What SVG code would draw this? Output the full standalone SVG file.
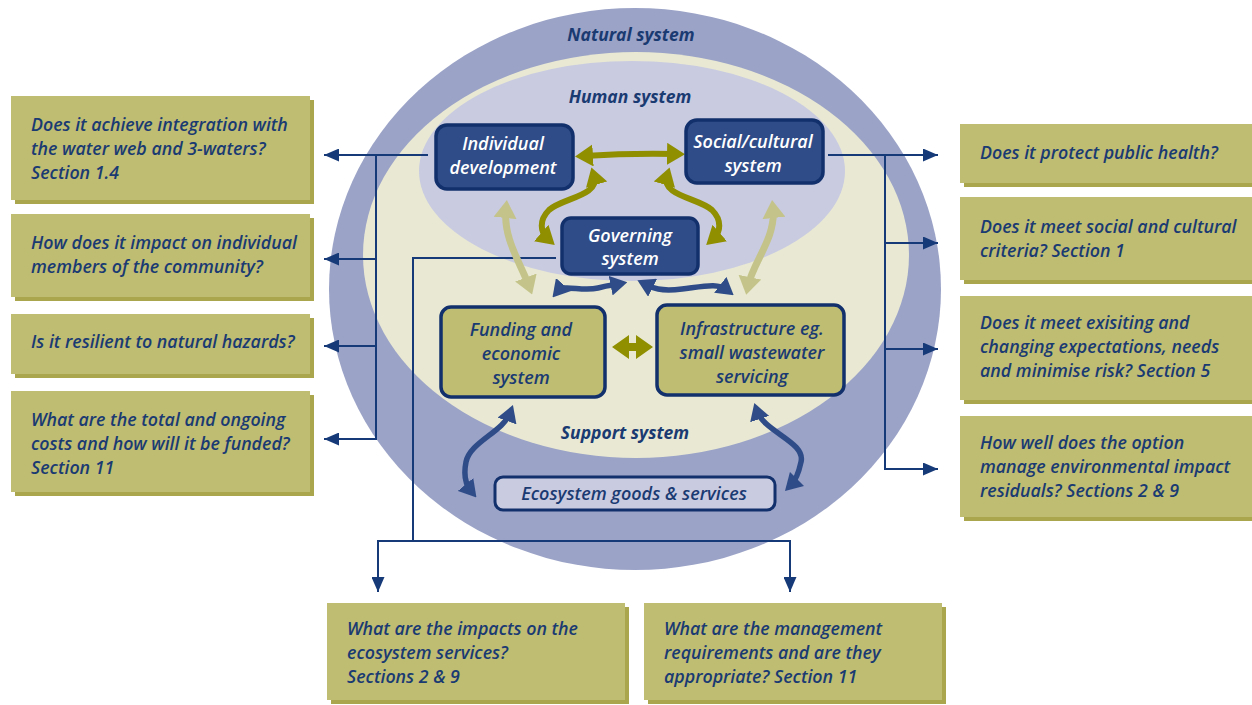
<svg xmlns="http://www.w3.org/2000/svg" width="1252" height="705" viewBox="0 0 1252 705">
  <style>
    .q { font-family: "Open Sans", "Liberation Sans", sans-serif; font-style: italic; font-weight: 600; font-size: 17.8px; fill: #1a3a72; }
    .lbl { font-family: "Open Sans", "Liberation Sans", sans-serif; font-style: italic; font-weight: 700; font-size: 17.5px; fill: #1a3a72; text-anchor: middle; }
    .nw { font-family: "Open Sans", "Liberation Sans", sans-serif; font-style: italic; font-weight: 600; font-size: 18px; fill: #ffffff; text-anchor: middle; }
    .nd { font-family: "Open Sans", "Liberation Sans", sans-serif; font-style: italic; font-weight: 600; font-size: 18px; fill: #1a3a72; text-anchor: middle; }
    .qbox { fill: #bfbd72; }
    .qshadow { fill: #a9a64e; }
    .blue-node { fill: #2f4c88; stroke: #12306c; stroke-width: 3.5; }
    .olive-node { fill: #bfbd72; stroke: #12306c; stroke-width: 3.5; }
    .eco-node { fill: #c9cbe1; stroke: #12306c; stroke-width: 3; }
    .thin { fill: none; stroke: #163a78; stroke-width: 2; }
    .olive-arr { fill: none; stroke: #8f8f00; stroke-width: 6; }
    .light-arr { fill: none; stroke: #c4c48a; stroke-width: 7; }
    .blue-arr { fill: none; stroke: #2f4c88; stroke-width: 5.5; }
  </style>
  <defs>
    <marker id="thinHead" viewBox="0 0 10 10" preserveAspectRatio="none" refX="10" refY="5" markerWidth="15" markerHeight="13" markerUnits="userSpaceOnUse" orient="auto">
      <path d="M0,0 L10,5 L0,10 z" fill="#163a78"/>
    </marker>
    <marker id="oliveHead" viewBox="0 0 10 10" preserveAspectRatio="none" refX="5" refY="5" markerWidth="18" markerHeight="22" markerUnits="userSpaceOnUse" orient="auto-start-reverse">
      <path d="M0,0 L10,5 L0,10 z" fill="#8f8f00"/>
    </marker>
    <marker id="lightHead" viewBox="0 0 10 10" preserveAspectRatio="none" refX="5" refY="5" markerWidth="18" markerHeight="23" markerUnits="userSpaceOnUse" orient="auto-start-reverse">
      <path d="M0,0 L10,5 L0,10 z" fill="#c4c48a"/>
    </marker>
    <marker id="blueHead" viewBox="0 0 10 10" preserveAspectRatio="none" refX="5" refY="5" markerWidth="17" markerHeight="20" markerUnits="userSpaceOnUse" orient="auto-start-reverse">
      <path d="M0,0 L10,5 L0,10 z" fill="#2f4c88"/>
    </marker>
  </defs>

  <!-- nested system ellipses -->
  <g id="systems">
    <ellipse cx="635" cy="289" rx="306" ry="281" fill="#9ba3c7"/>
    <ellipse cx="636" cy="255" rx="273" ry="203" fill="#e9e9d3"/>
    <ellipse cx="632" cy="171" rx="213" ry="110" fill="#c9cbe1"/>
    <text class="lbl" x="631" y="41">Natural system</text>
    <text class="lbl" x="630" y="103">Human system</text>
    <text class="lbl" x="625" y="439">Support system</text>
  </g>

  <!-- connectors -->
  <g id="connectors">
    <!-- left question branches -->
    <path class="thin" d="M428,155 H324" marker-end="url(#thinHead)"/>
    <path class="thin" d="M376,155 V439"/>
    <path class="thin" d="M376,259 H324" marker-end="url(#thinHead)"/>
    <path class="thin" d="M376,346 H324" marker-end="url(#thinHead)"/>
    <path class="thin" d="M377,439 H324" marker-end="url(#thinHead)"/>
    <!-- right question branches -->
    <path class="thin" d="M828,155 H938" marker-end="url(#thinHead)"/>
    <path class="thin" d="M885,155 V469"/>
    <path class="thin" d="M885,243 H938" marker-end="url(#thinHead)"/>
    <path class="thin" d="M885,349 H938" marker-end="url(#thinHead)"/>
    <path class="thin" d="M884,469 H938" marker-end="url(#thinHead)"/>
    <!-- bottom question branches -->
    <path class="thin" d="M556,258 H413 V541"/>
    <path class="thin" d="M378,541 H790"/>
    <path class="thin" d="M378,540 V592" marker-end="url(#thinHead)"/>
    <path class="thin" d="M790,540 V592" marker-end="url(#thinHead)"/>

    <!-- human system links -->
    <path class="olive-arr" d="M584,156 Q630,153 676,154" marker-start="url(#oliveHead)" marker-end="url(#oliveHead)"/>
    <path class="olive-arr" d="M594,176 C600,196 562,198 549,210 C539,220 540,232 548,239" marker-start="url(#oliveHead)" marker-end="url(#oliveHead)"/>
    <path class="olive-arr" d="M667,176 C661,196 699,198 712,210 C722,220 721,232 713,239" marker-start="url(#oliveHead)" marker-end="url(#oliveHead)"/>
    <path class="light-arr" d="M506,209 C503,238 520,262 529,286" marker-start="url(#lightHead)" marker-end="url(#lightHead)"/>
    <path class="light-arr" d="M773,209 C776,238 753,262 748,286" marker-start="url(#lightHead)" marker-end="url(#lightHead)"/>
    <!-- governing to support links -->
    <path class="blue-arr" d="M558,291 C564,284 582,292 598,288 C609,285 614,285 619,284" marker-start="url(#blueHead)" marker-end="url(#blueHead)"/>
    <path class="blue-arr" d="M645,284 C651,287 658,292 682,289 C706,286 718,283 727,290" marker-start="url(#blueHead)" marker-end="url(#blueHead)"/>
    <polygon points="612,347 629,335 629,343 636,343 636,335 653,347 636,359 636,351 629,351 629,359" fill="#8f8f00"/>
    <!-- support to ecosystem links -->
    <path class="blue-arr" d="M510,413 C503,432 470,442 466,462 C463,477 466,485 471,491" marker-start="url(#blueHead)" marker-end="url(#blueHead)"/>
    <path class="blue-arr" d="M757,411 C764,432 806,442 801,462 C798,476 795,481 791,485" marker-start="url(#blueHead)" marker-end="url(#blueHead)"/>
  </g>

  <!-- system nodes -->
  <g id="node-individual">
    <rect class="blue-node" x="436" y="125" width="137" height="64" rx="11"/>
    <text class="nw" x="503" y="150">Individual</text>
    <text class="nw" x="503" y="174">development</text>
  </g>
  <g id="node-social">
    <rect class="blue-node" x="686" y="120" width="137" height="63" rx="11"/>
    <text class="nw" x="753" y="148">Social/cultural</text>
    <text class="nw" x="753" y="172">system</text>
  </g>
  <g id="node-governing">
    <rect class="blue-node" x="562" y="218" width="136" height="56" rx="9"/>
    <text class="nw" x="630" y="242">Governing</text>
    <text class="nw" x="630" y="265">system</text>
  </g>
  <g id="node-funding">
    <rect class="olive-node" x="441" y="307" width="164" height="90" rx="10"/>
    <text class="nd" x="521" y="336">Funding and</text>
    <text class="nd" x="521" y="360">economic</text>
    <text class="nd" x="521" y="384">system</text>
  </g>
  <g id="node-infrastructure">
    <rect class="olive-node" x="657" y="305" width="187" height="90" rx="10"/>
    <text class="nd" x="752" y="335">Infrastructure eg.</text>
    <text class="nd" x="752" y="359">small wastewater</text>
    <text class="nd" x="752" y="383">servicing</text>
  </g>
  <g id="node-ecosystem">
    <rect class="eco-node" x="495" y="477" width="280" height="33" rx="8"/>
    <text class="nd" x="634" y="500">Ecosystem goods &amp; services</text>
  </g>

  <!-- question boxes, left -->
  <g id="q-integration">
    <rect class="qshadow" x="15" y="100" width="299" height="104"/>
    <rect class="qbox" x="11" y="96" width="299" height="104"/>
    <text class="q" x="31" y="131">Does it achieve integration with</text>
    <text class="q" x="31" y="155">the water web and 3-waters?</text>
    <text class="q" x="31" y="179">Section 1.4</text>
  </g>
  <g id="q-individual">
    <rect class="qshadow" x="15" y="218" width="299" height="83"/>
    <rect class="qbox" x="11" y="214" width="299" height="83"/>
    <text class="q" x="31" y="249">How does it impact on individual</text>
    <text class="q" x="31" y="273">members of the community?</text>
  </g>
  <g id="q-hazards">
    <rect class="qshadow" x="15" y="318" width="299" height="60"/>
    <rect class="qbox" x="11" y="314" width="299" height="60"/>
    <text class="q" x="31" y="348">Is it resilient to natural hazards?</text>
  </g>
  <g id="q-costs">
    <rect class="qshadow" x="15" y="395" width="299" height="101"/>
    <rect class="qbox" x="11" y="391" width="299" height="101"/>
    <text class="q" x="31" y="426">What are the total and ongoing</text>
    <text class="q" x="31" y="450">costs and how will it be funded?</text>
    <text class="q" x="31" y="474">Section 11</text>
  </g>

  <!-- question boxes, right -->
  <g id="q-health">
    <rect class="qshadow" x="964" y="128" width="300" height="59"/>
    <rect class="qbox" x="960" y="124" width="300" height="59"/>
    <text class="q" x="980" y="159">Does it protect public health?</text>
  </g>
  <g id="q-social">
    <rect class="qshadow" x="964" y="201" width="300" height="83"/>
    <rect class="qbox" x="960" y="197" width="300" height="83"/>
    <text class="q" x="980" y="233">Does it meet social and cultural</text>
    <text class="q" x="980" y="257">criteria? Section 1</text>
  </g>
  <g id="q-expectations">
    <rect class="qshadow" x="964" y="300" width="300" height="104"/>
    <rect class="qbox" x="960" y="296" width="300" height="104"/>
    <text class="q" x="980" y="329">Does it meet exisiting and</text>
    <text class="q" x="980" y="353">changing expectations, needs</text>
    <text class="q" x="980" y="377">and minimise risk? Section 5</text>
  </g>
  <g id="q-residuals">
    <rect class="qshadow" x="964" y="420" width="300" height="101"/>
    <rect class="qbox" x="960" y="416" width="300" height="101"/>
    <text class="q" x="980" y="449">How well does the option</text>
    <text class="q" x="980" y="473">manage environmental impact</text>
    <text class="q" x="980" y="497">residuals? Sections 2 &amp; 9</text>
  </g>

  <!-- question boxes, bottom -->
  <g id="q-ecosystem">
    <rect class="qshadow" x="331" y="607" width="298" height="97"/>
    <rect class="qbox" x="327" y="603" width="298" height="97"/>
    <text class="q" x="347" y="635">What are the impacts on the</text>
    <text class="q" x="347" y="659">ecosystem services?</text>
    <text class="q" x="347" y="683">Sections 2 &amp; 9</text>
  </g>
  <g id="q-management">
    <rect class="qshadow" x="648" y="607" width="298" height="97"/>
    <rect class="qbox" x="644" y="603" width="298" height="97"/>
    <text class="q" x="664" y="635">What are the management</text>
    <text class="q" x="664" y="659">requirements and are they</text>
    <text class="q" x="664" y="683">appropriate? Section 11</text>
  </g>
</svg>
